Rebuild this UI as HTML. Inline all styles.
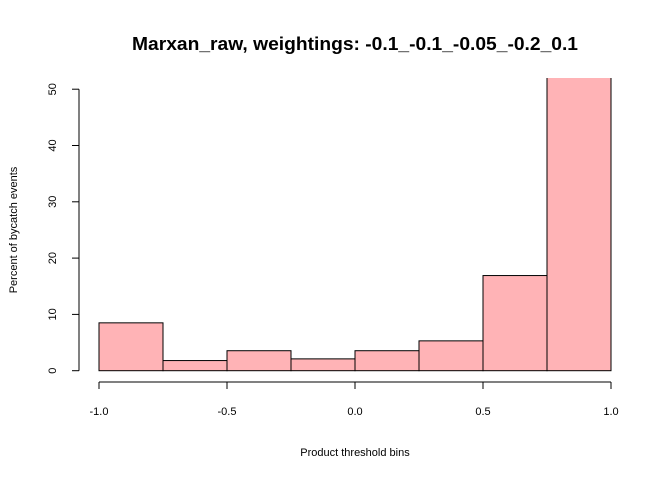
<!DOCTYPE html>
<html><head><meta charset="utf-8"><style>body{margin:0;background:#fff}svg{display:block;font-family:"Liberation Sans",Arial,sans-serif}</style></head>
<body>
<svg id="chart" width="672" height="480" viewBox="0 0 672 480">
<text x="355" y="50" text-anchor="middle" font-size="18" font-weight="bold" textLength="446" lengthAdjust="spacingAndGlyphs">Marxan_raw, weightings: -0.1_-0.1_-0.05_-0.2_0.1</text>
<text x="355" y="456" text-anchor="middle" font-size="11">Product threshold bins</text>
<text transform="translate(17,230) rotate(-90)" text-anchor="middle" font-size="11">Percent of bycatch events</text>
<defs><clipPath id="plotclip"><rect x="60" y="78" width="580" height="300"/></clipPath></defs>
<g id="bars" clip-path="url(#plotclip)"></g>
<g id="axes"></g>
</svg>
<script>
const binEdges = [-1, -0.75, -0.5, -0.25, 0, 0.25, 0.5, 0.75, 1];
const percents = [8.5, 1.8, 3.55, 2.1, 3.55, 5.3, 16.9, 58];
const xTicks = [-1, -0.5, 0, 0.5, 1];
const xTickLabels = ["-1.0", "-0.5", "0.0", "0.5", "1.0"];
const yTicks = [0, 10, 20, 30, 40, 50];
const ns = "http://www.w3.org/2000/svg";
const xs = v => 99 + (v + 1) / 2 * 512;
const ys = v => 370.7 - v * 5.63;
const bars = document.getElementById('bars'), axes = document.getElementById('axes');
function mk(tag, attrs, parent){const e=document.createElementNS(ns,tag);for(const k in attrs)e.setAttribute(k,attrs[k]);parent.appendChild(e);return e;}
percents.forEach((p,i)=>{
  const r = mk('rect',{x:xs(binEdges[i]),y:ys(p),width:xs(binEdges[i+1])-xs(binEdges[i]),height:ys(0)-ys(p),fill:'#ffb3b6',stroke:'#000','stroke-width':1},bars);
  
  
});
const xa = mk('line',{x1:xs(-1),x2:xs(1),y1:382,y2:382,stroke:'#000'},axes);


xTicks.forEach((t,i)=>{
  mk('line',{x1:xs(t),x2:xs(t),y1:382,y2:389,stroke:'#000'},axes);
  const tx = mk('text',{x:xs(t),y:415,'text-anchor':'middle','font-size':11},axes);
  tx.textContent = xTickLabels[i];
  
  
});
const ya = mk('line',{x1:79,x2:79,y1:ys(0),y2:ys(50),stroke:'#000'},axes);


yTicks.forEach(t=>{
  mk('line',{x1:72,x2:79,y1:ys(t),y2:ys(t),stroke:'#000'},axes);
  const tx = mk('text',{transform:`translate(56,${ys(t)}) rotate(-90)`,'text-anchor':'middle','font-size':11},axes);
  tx.textContent = String(t);
  
  
});
</script>
</body></html>
